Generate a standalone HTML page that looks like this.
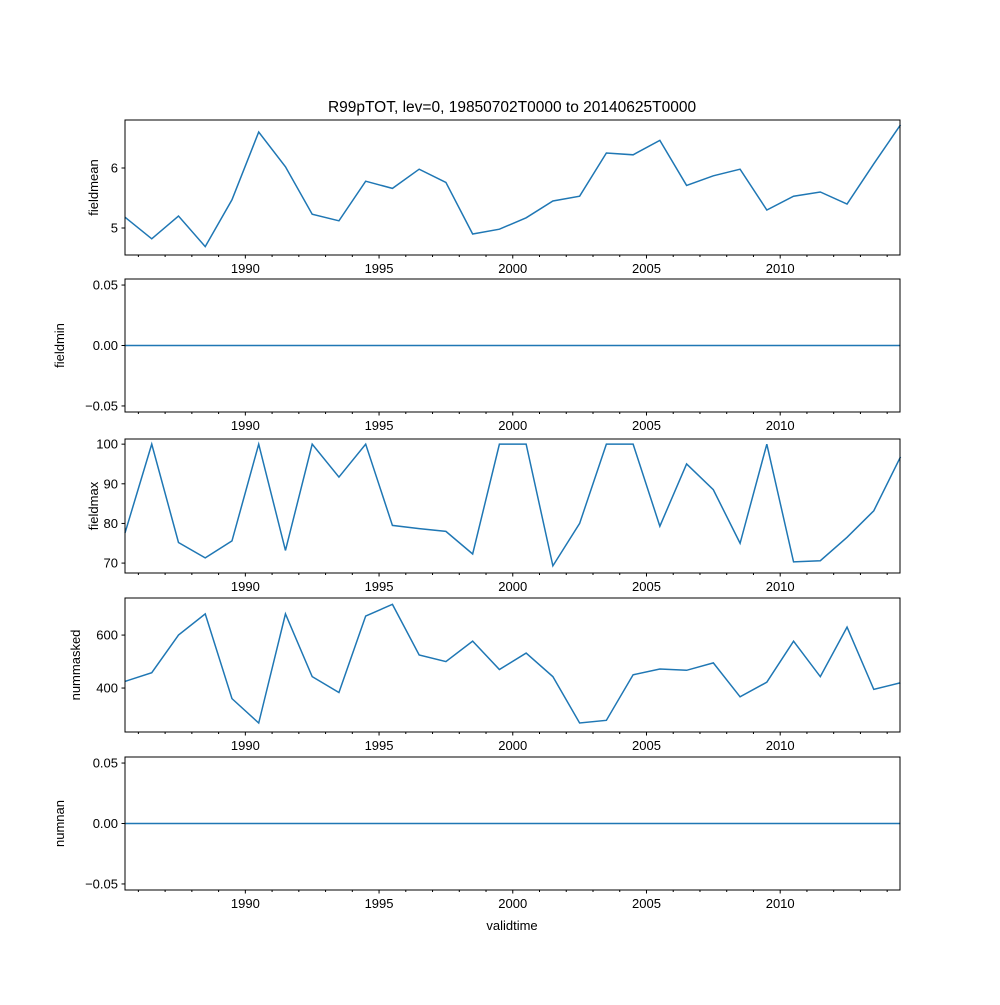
<!DOCTYPE html>
<html><head><meta charset="utf-8"><style>
body{margin:0;background:#fff}
svg text{font-family:"Liberation Sans",sans-serif;font-size:13px;fill:#000}
</style></head><body>
<svg id="c" width="1000" height="1000"></svg>
<script>
const years = Array.from({length:30},(_,i)=>1985.5+i);
const fieldmean = [5.18,4.82,5.2,4.69,5.47,6.6,6.02,5.23,5.12,5.78,5.66,5.98,5.76,4.9,4.98,5.17,5.45,5.53,6.25,6.22,6.46,5.71,5.87,5.98,5.3,5.53,5.6,5.4,6.07,6.72];
const fieldmin = new Array(30).fill(0);
const fieldmax = [77.6,100,75.2,71.3,75.6,100,73.2,100,91.7,100,79.5,78.7,78,72.3,100,100,69.3,80,100,100,79.3,95,88.5,75,100,70.3,70.6,76.5,83.2,96.8];
const nummasked = [425,458,600,680,360,268,680,443,383,672,716,525,500,577,470,532,443,268,278,450,472,467,495,367,422,577,443,630,395,420];
const numnan = new Array(30).fill(0);
const xTicks = [1990,1995,2000,2005,2010];
const NS="http://www.w3.org/2000/svg";
const svg=document.getElementById('c');
function mk(t,a,p){const e=document.createElementNS(NS,t);for(const k in a)e.setAttribute(k,a[k]);(p||svg).appendChild(e);return e;}
const X0=125,X1=900,xmin=1985.5,xmax=2014.48;
const xs=v=>X0+(v-xmin)/(xmax-xmin)*(X1-X0);
const panels=[
 {name:'fieldmean',data:fieldmean,top:120,bot:255,lo:4.55,hi:6.8,ticks:[5,6],fmt:v=>String(v)},
 {name:'fieldmin',data:fieldmin,top:279,bot:412,lo:-0.055,hi:0.055,ticks:[-0.05,0,0.05],fmt:v=>v.toFixed(2).replace('-','−')},
 {name:'fieldmax',data:fieldmax,top:439,bot:573,lo:67.5,hi:101.3,ticks:[70,80,90,100],fmt:v=>String(v)},
 {name:'nummasked',data:nummasked,top:598,bot:732,lo:234,hi:740,ticks:[400,600],fmt:v=>String(v)},
 {name:'numnan',data:numnan,top:757,bot:890,lo:-0.055,hi:0.055,ticks:[-0.05,0,0.05],fmt:v=>v.toFixed(2).replace('-','−')}
];
panels.forEach((p,pi)=>{
 const g=mk('g',{});
 
 
 const ys=v=>p.bot-(v-p.lo)/(p.hi-p.lo)*(p.bot-p.top);
 const pts=years.map((y,i)=>xs(y).toFixed(2)+','+ys(p.data[i]).toFixed(2)).join(' ');
 const line=mk('polyline',{points:pts,fill:'none',stroke:'#1f77b4','stroke-width':1.5},g);
 
 
 mk('rect',{x:X0,y:p.top,width:X1-X0,height:p.bot-p.top,fill:'none',stroke:'#000','stroke-width':1},g);
 p.ticks.forEach(t=>{const y=ys(t);
  mk('line',{x1:X0-3.5,x2:X0,y1:y,y2:y,stroke:'#000'},g);
  const tx=mk('text',{x:X0-7,y:y+4.5,'text-anchor':'end'},g);tx.textContent=p.fmt(t);
  
  
 });
 for(let yr=1986;yr<=2014;yr++){const x=xs(yr);const major=xTicks.includes(yr);
  mk('line',{x1:x,x2:x,y1:p.bot,y2:p.bot+(major?3.5:2),stroke:'#000'},g);}
 xTicks.forEach(t=>{const tx=mk('text',{x:xs(t),y:p.bot+18,'text-anchor':'middle'},g);tx.textContent=t;
  
  });
 const cy=(p.top+p.bot)/2, lx=pi==1||pi==4?64:pi==3?80:98;
 const yl=mk('text',{x:lx,y:cy,'text-anchor':'middle',transform:`rotate(-90 ${lx} ${cy})`},g);yl.textContent=p.name;
 
 
});
const title=mk('text',{x:512,y:112,'text-anchor':'middle',style:'font-size:15.5px'});title.textContent='R99pTOT, lev=0, 19850702T0000 to 20140625T0000';


const xl=mk('text',{x:512,y:930,'text-anchor':'middle'});xl.textContent='validtime';


</script>
</body></html>
